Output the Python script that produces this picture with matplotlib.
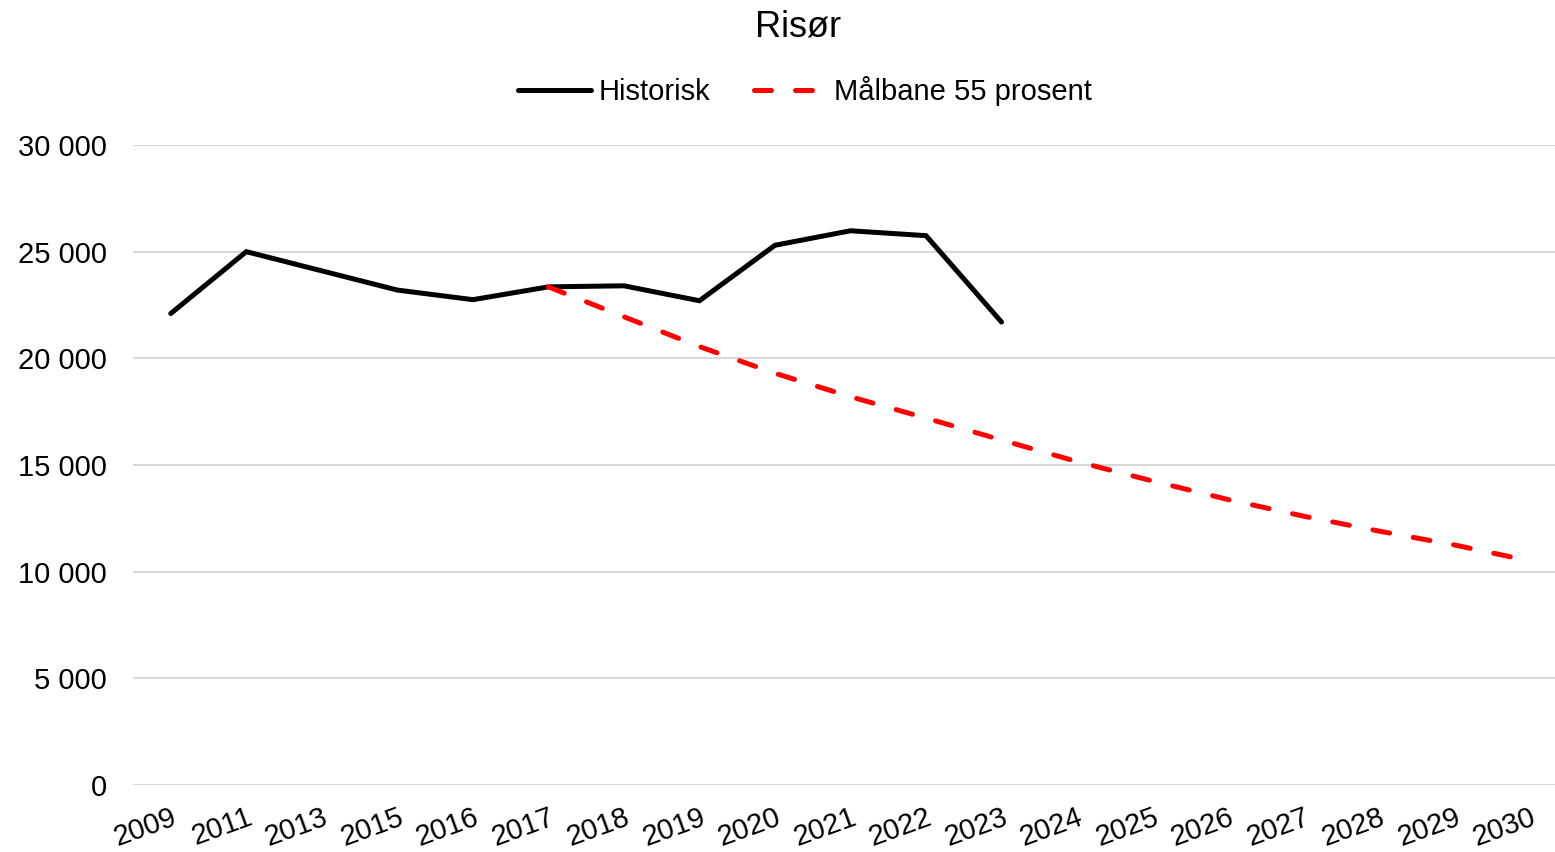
import matplotlib
matplotlib.use("Agg")
import matplotlib.pyplot as plt
from matplotlib.ticker import FuncFormatter

plt.rcParams['font.family'] = ['Liberation Sans', 'DejaVu Sans']

years = ['2009', '2011', '2013', '2015', '2016', '2017', '2018', '2019', '2020',
         '2021', '2022', '2023', '2024', '2025', '2026', '2027', '2028', '2029', '2030']
historisk = [22100, 25000, 24100, 23200, 22750, 23350, 23400, 22700, 25300,
             25980, 25750, 21700]
maalbane_years = years[5:]
maalbane = [23350, 21950, 20550, 19300, 18200, 17200, 16170, 15160, 14250,
            13380, 12600, 11900, 11250, 10500]

fig = plt.figure(figsize=(15.55, 8.52), dpi=100)
ax = fig.add_axes([133 / 1555, 1 - 785 / 852, 1435 / 1555, 640 / 852])

x_hist = list(range(len(historisk)))
x_maal = [years.index(y) for y in maalbane_years]

ax.plot(x_hist, historisk, color='black', lw=3.6, solid_capstyle='round',
        solid_joinstyle='miter', label='Historisk', zorder=3)
ax.plot(x_maal, maalbane, color='#ff0000', lw=3.6, dashes=(3.4, 4.8),
        dash_capstyle='round', label='Målbane 55 prosent', zorder=4)

ax.set_xlim(-0.5, len(years) - 0.5)
ax.set_ylim(0, 30000)
ax.set_yticks(range(0, 30001, 5000))
ax.yaxis.set_major_formatter(FuncFormatter(lambda v, p: f"{int(v):,}".replace(',', ' ')))
ax.set_xticks(range(len(years)))
ax.set_xticklabels(years, rotation=20, ha='right', va='top', rotation_mode='anchor')

ax.grid(axis='y', color='#d9d9d9', lw=1.5)
ax.set_axisbelow(True)
for s in ax.spines.values():
    s.set_visible(False)
ax.tick_params(axis='both', length=0, labelsize=21)
ax.tick_params(axis='y', pad=19)
ax.tick_params(axis='x', pad=13)

fig.text(798 / 1555, 1 - 27 / 852, 'Risør', ha='center', va='center', fontsize=26)
fig.legend(loc='center', bbox_to_anchor=(805 / 1555, 1 - 91 / 852), ncol=2,
           frameon=False, fontsize=21, handlelength=2.47, columnspacing=1.5,
           handletextpad=0.27)

fig.savefig('out.png', dpi=100)
